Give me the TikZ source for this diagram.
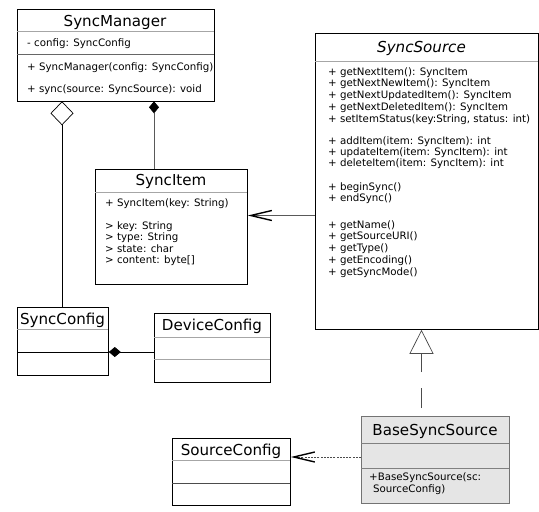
\documentclass[tikz,border=0pt]{standalone}
\usepackage{fontspec}
\setmainfont{DejaVu Sans}
\usetikzlibrary{arrows.meta}
\begin{document}
\begin{tikzpicture}[x=1pt,y=-1pt,
  cls/.style={draw=black, line width=0.8pt, rectangle, inner sep=0pt, anchor=north west},
  sepline/.style={draw=black!35, line width=0.7pt},
  ttl/.style={font=\fontsize{15.1}{15}\selectfont, anchor=base, inner sep=0pt},
  mem/.style={font=\fontsize{10.25}{10}\selectfont, anchor=base west, inner sep=0pt},
  conn/.style={draw=black!65, line width=0.7pt},
  openarr/.style={-{Straight Barb[length=21pt,width=10pt,line width=1.4pt,black]}},
  aggr/.style={{Diamond[open,length=24pt,width=23pt,line width=0.7pt,fill=white]}-},
  compo/.style={{Diamond[length=12pt,width=10pt,black]}-},
  realiz/.style={-{Triangle[open,length=24pt,width=24pt,line width=0.7pt,fill=white]}}
]
\useasboundingbox (0,0) rectangle (539,512);

% ---------------- SyncManager
\node[cls, minimum width=197pt, minimum height=92pt] (sm) at (16.5,8.5) {};
\draw[sepline] (16.5,31.7) -- (213.5,31.7);
\draw[sepline, draw=black!60] (16.5,54.3) -- (213.5,54.3);
\node[ttl] (smt) at (115,26) {SyncManager};
\node[mem] (sm1) at (27,46.7) {- config: SyncConfig};
\node[mem] (sm2) at (27,70) {+ SyncManager(config: SyncConfig)};
\node[mem] (sm3) at (27,92.7) {+ sync(source: SyncSource): void};

% ---------------- SyncSource
\node[cls, minimum width=222.5pt, minimum height=296pt] (ss) at (315,33) {};
\draw[sepline] (315,61.7) -- (537.5,61.7);
\node[ttl, font=\fontsize{15.1}{15}\selectfont\itshape] (sst) at (421.5,52.5) {SyncSource};
\node[mem] (ss1) at (328,75.3) {+ getNextItem(): SyncItem};
\node[mem] (ss2) at (328,86.9) {+ getNextNewItem(): SyncItem};
\node[mem] (ss3) at (328,98.6) {+ getNextUpdatedItem(): SyncItem};
\node[mem] (ss4) at (328,110.6) {+ getNextDeletedItem(): SyncItem};
\node[mem] (ss5) at (328,122.0) {+ setItemStatus(key:String, status: int)};
\node[mem] (ss6) at (328,144.3) {+ addItem(item: SyncItem): int};
\node[mem] (ss7) at (328,155.5) {+ updateItem(item: SyncItem): int};
\node[mem] (ss8) at (328,166.9) {+ deleteItem(item: SyncItem): int};
\node[mem] (ss9) at (328,190.3) {+ beginSync()};
\node[mem] (ss10) at (328,201.9) {+ endSync()};
\node[mem] (ss11) at (328,228.6) {+ getName()};
\node[mem] (ss12) at (328,239.8) {+ getSourceURI()};
\node[mem] (ss13) at (328,251.6) {+ getType()};
\node[mem] (ss14) at (328,263.4) {+ getEncoding()};
\node[mem] (ss15) at (328,275.2) {+ getSyncMode()};

% ---------------- SyncItem
\node[cls, minimum width=152pt, minimum height=114.5pt] (si) at (95,169) {};
\draw[sepline] (95,192) -- (247,192);
\node[ttl] (sit) at (171,185.7) {SyncItem};
\node[mem] (si1) at (105,206.7) {+ SyncItem(key: String)};
\node[mem] (si2) at (105,229.3) {> key: String};
\node[mem] (si3) at (105,240.6) {> type: String};
\node[mem] (si4) at (105,252.0) {> state: char};
\node[mem] (si5) at (105,263.3) {> content: byte[]};

% ---------------- SyncConfig
\node[cls, minimum width=91pt, minimum height=68pt] (sc) at (17,307) {};
\draw[sepline] (17,329) -- (108,329);
\draw[black, line width=0.8pt] (17,352) -- (108,352);
\node[ttl] (sct) at (62.5,324.3) {SyncConfig};

% ---------------- DeviceConfig
\node[cls, minimum width=116pt, minimum height=69pt] (dc) at (154,313) {};
\draw[sepline] (154,337) -- (270,337);
\draw[sepline] (154,359) -- (270,359);
\node[ttl] (dct) at (212,330) {DeviceConfig};

% ---------------- SourceConfig
\node[cls, minimum width=118pt, minimum height=67pt] (src) at (172,438) {};
\draw[sepline] (172,460) -- (290,460);
\draw[sepline, draw=black!70] (172,483) -- (290,483);
\node[ttl] (srct) at (231,455) {SourceConfig};

% ---------------- BaseSyncSource
\node[cls, draw=black!55, fill=black!10, minimum width=148pt, minimum height=87pt] (bss) at (361,416) {};
\draw[sepline, draw=black!50] (361,443) -- (509,443);
\draw[sepline, draw=black!50] (361,468) -- (509,468);
\node[ttl] (bsst) at (435,435) {BaseSyncSource};
\node[mem] (bss1) at (369,480.5) {+BaseSyncSource(sc:};
\node[mem] (bss2) at (373,492.8) {SourceConfig)};

% ---------------- connectors
\coordinate (xagg) at (62,0);
\coordinate (xcomp) at (154,0);
\coordinate (ysi) at (0,215.5);
\coordinate (ycfg) at (0,352);
\coordinate (ydep) at (0,457);
\coordinate (xreal) at (421.5,0);

% aggregation SyncManager <>-- SyncConfig
\draw[conn, draw=black, aggr] (sm.south -| xagg) -- (sc.north -| xagg);
% composition SyncManager <*>-- SyncItem
\draw[conn, compo] (sm.south -| xcomp) -- (si.north -| xcomp);
% SyncSource --> SyncItem
\draw[conn, openarr] (ss.west |- ysi) -- (si.east |- ysi);
% SyncConfig <*>-- DeviceConfig
\draw[conn, draw=black, compo] (sc.east |- ycfg) -- (dc.west |- ycfg);
% BaseSyncSource ..|> SyncSource
\draw[conn, draw=black!70, realiz, dash pattern=on 20pt off 16pt, dash phase=28pt] (bss.north -| xreal) -- (ss.south -| xreal);
% BaseSyncSource ..> SourceConfig
\draw[draw=black!70, line width=0.6pt, dash pattern=on 2pt off 1.2pt, openarr] (bss.west |- ydep) -- (src.east |- ydep);
\end{tikzpicture}
\end{document}
